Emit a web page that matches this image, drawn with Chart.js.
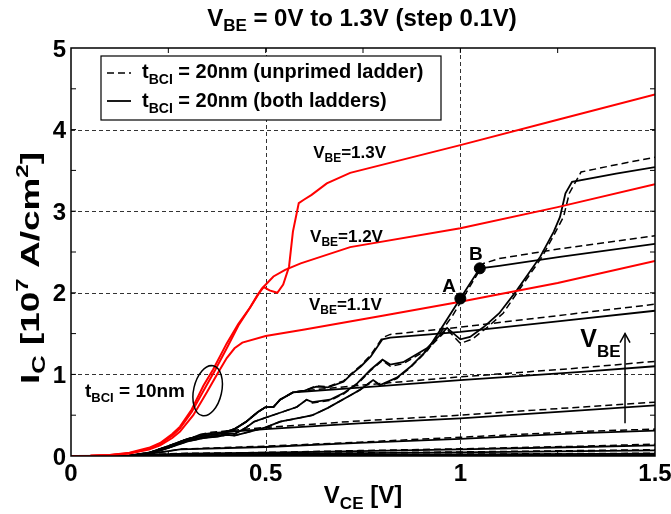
<!DOCTYPE html>
<html><head><meta charset="utf-8">
<script src="https://cdn.jsdelivr.net/npm/chart.js@4/dist/chart.umd.min.js"></script>
<style>html,body{margin:0;padding:0;background:#fff}#wrap{width:671px;height:514px}</style>
</head><body><div id="wrap"><canvas id="c" width="671" height="514"></canvas></div>
<script>
// ---------- data (VCE [V], IC [1e7 A/cm^2]) ----------
const xTicks = [0, 0.5, 1, 1.5];
const xTickLabels = ['0', '0.5', '1', '1.5'];
const yTicks = [0, 1, 2, 3, 4, 5];
const yTickLabels = ['0', '1', '2', '3', '4', '5'];

// tBCI = 10nm (red)
const red11 = [[0,0],[0.05,0.002],[0.1,0.01],[0.15,0.03],[0.2,0.08],[0.229,0.13],[0.26,0.22],[0.28,0.3],[0.314,0.5],[0.349,0.78],[0.375,1.0],[0.40,1.2],[0.42,1.32],[0.44,1.39],[0.5,1.47],[0.6,1.55],[0.8,1.72],[1.0,1.89],[1.25,2.12],[1.5,2.39]];
const red12 = [[0,0],[0.05,0.002],[0.1,0.012],[0.15,0.035],[0.2,0.09],[0.229,0.15],[0.26,0.25],[0.28,0.34],[0.31,0.54],[0.345,0.84],[0.37,1.05],[0.40,1.32],[0.43,1.6],[0.46,1.82],[0.49,2.05],[0.52,2.2],[0.55,2.28],[0.59,2.36],[0.717,2.56],[1.0,2.79],[1.25,3.05],[1.5,3.33]];
const red13 = [[0,0],[0.05,0.002],[0.1,0.013],[0.15,0.04],[0.2,0.1],[0.229,0.16],[0.26,0.27],[0.28,0.36],[0.31,0.57],[0.34,0.86],[0.365,1.06],[0.40,1.38],[0.43,1.62],[0.46,1.82],[0.48,1.98],[0.495,2.07],[0.51,2.03],[0.53,2.0],[0.545,2.1],[0.56,2.32],[0.57,2.75],[0.585,3.1],[0.598,3.14],[0.618,3.2],[0.657,3.34],[0.717,3.47],[1.0,3.81],[1.25,4.12],[1.5,4.43]];

// tBCI = 20nm, both ladders (solid)
const bothLow = [
  [[0,0],[1.5,0]],
  [[0,0],[1.5,0.002]],
  [[0,0],[0.2,0.001],[1.5,0.005]],
  [[0,0],[0.2,0.002],[1.0,0.007],[1.5,0.012]],
  [[0,0],[0.2,0.005],[0.5,0.012],[1.0,0.02],[1.5,0.03]],
  [[0,0],[0.15,0.003],[0.2,0.01],[0.5,0.025],[1.0,0.045],[1.5,0.07]],
  [[0,0],[0.15,0.004],[0.22,0.02],[0.3,0.03],[0.5,0.04],[0.74,0.06],[1.0,0.08],[1.31,0.11],[1.5,0.13]]
];
const both08 = [[0,0],[0.15,0.004],[0.2,0.025],[0.25,0.06],[0.28,0.08],[0.5,0.11],[0.74,0.16],[1.0,0.21],[1.31,0.28],[1.5,0.31]];
const both09 = [[0,0],[0.15,0.004],[0.2,0.03],[0.25,0.1],[0.3,0.2],[0.33,0.26],[0.36,0.28],[0.5,0.33],[0.74,0.40],[1.0,0.46],[1.31,0.56],[1.5,0.62]];
const both10 = [[0,0],[0.15,0.004],[0.2,0.04],[0.25,0.12],[0.3,0.21],[0.34,0.25],[0.38,0.27],[0.42,0.33],[0.45,0.42],[0.48,0.54],[0.5,0.6],[0.52,0.6],[0.537,0.69],[0.57,0.78],[0.6,0.79],[0.75,0.84],[1.0,0.93],[1.31,1.03],[1.5,1.1]];
const both11 = [[0,0],[0.15,0.004],[0.2,0.04],[0.25,0.12],[0.3,0.21],[0.34,0.25],[0.38,0.27],[0.42,0.33],[0.45,0.42],[0.48,0.54],[0.5,0.6],[0.52,0.6],[0.537,0.69],[0.57,0.78],[0.6,0.8],[0.63,0.85],[0.66,0.84],[0.7,0.91],[0.72,1.0],[0.745,1.1],[0.77,1.22],[0.8,1.43],[0.82,1.45],[1.0,1.52],[1.25,1.65],[1.5,1.78]];
const both12 = [[0,0],[0.15,0.003],[0.2,0.03],[0.25,0.1],[0.3,0.18],[0.34,0.22],[0.38,0.24],[0.4,0.26],[0.42,0.25],[0.46,0.3],[0.5,0.35],[0.537,0.42],[0.6,0.48],[0.62,0.5],[0.66,0.59],[0.72,0.75],[0.742,0.81],[0.776,0.93],[0.794,0.87],[0.837,0.96],[0.871,1.09],[0.915,1.3],[0.948,1.54],[1.0,1.93],[1.05,2.3],[1.1,2.33],[1.256,2.44],[1.5,2.6]];
const both13 = [[0,0],[0.15,0.003],[0.2,0.035],[0.25,0.11],[0.3,0.19],[0.34,0.23],[0.38,0.25],[0.4,0.28],[0.42,0.27],[0.45,0.35],[0.47,0.42],[0.5,0.47],[0.537,0.53],[0.58,0.6],[0.605,0.69],[0.62,0.66],[0.665,0.69],[0.7,0.77],[0.735,0.89],[0.77,1.06],[0.8,1.18],[0.82,1.12],[0.853,1.15],[0.914,1.32],[0.966,1.57],[1.0,1.43],[1.025,1.46],[1.06,1.58],[1.1,1.75],[1.145,2.03],[1.205,2.44],[1.24,2.75],[1.256,2.93],[1.27,3.22],[1.287,3.36],[1.4,3.46],[1.5,3.54]];

// tBCI = 20nm, unprimed ladder (dashed)
const unprLow = [
  [[0,0],[0.2,0.006],[0.5,0.014],[1.0,0.023],[1.5,0.034]],
  [[0,0],[0.15,0.003],[0.2,0.011],[0.5,0.028],[1.0,0.05],[1.5,0.077]],
  [[0,0],[0.15,0.004],[0.22,0.022],[0.3,0.033],[0.5,0.044],[0.74,0.066],[1.0,0.088],[1.31,0.12],[1.5,0.145]]
];
const unpr08 = [[0,0],[0.15,0.004],[0.2,0.025],[0.25,0.06],[0.28,0.085],[0.5,0.12],[0.74,0.17],[1.0,0.23],[1.31,0.3],[1.5,0.33]];
const unpr09 = [[0,0],[0.15,0.004],[0.2,0.03],[0.25,0.1],[0.3,0.2],[0.33,0.26],[0.36,0.29],[0.5,0.35],[0.74,0.43],[1.0,0.5],[1.31,0.6],[1.5,0.66]];
const unpr10 = [[0,0],[0.15,0.004],[0.2,0.04],[0.25,0.12],[0.3,0.21],[0.34,0.25],[0.38,0.27],[0.42,0.33],[0.45,0.42],[0.48,0.54],[0.5,0.6],[0.52,0.6],[0.537,0.69],[0.57,0.78],[0.6,0.8],[0.75,0.87],[1.0,0.97],[1.31,1.08],[1.5,1.16]];
const unpr11 = [[0,0],[0.15,0.004],[0.2,0.04],[0.25,0.12],[0.3,0.21],[0.34,0.25],[0.38,0.27],[0.42,0.33],[0.45,0.42],[0.48,0.54],[0.5,0.6],[0.52,0.6],[0.537,0.69],[0.57,0.78],[0.6,0.8],[0.63,0.86],[0.66,0.85],[0.7,0.92],[0.72,1.01],[0.745,1.11],[0.77,1.24],[0.8,1.45],[0.82,1.49],[1.0,1.58],[1.25,1.72],[1.5,1.86]];
const unpr12 = [[0,0],[0.15,0.003],[0.2,0.03],[0.25,0.1],[0.3,0.18],[0.34,0.22],[0.38,0.24],[0.4,0.26],[0.42,0.25],[0.46,0.3],[0.5,0.35],[0.537,0.42],[0.6,0.48],[0.62,0.5],[0.66,0.59],[0.72,0.75],[0.742,0.81],[0.776,0.93],[0.794,0.86],[0.837,0.95],[0.871,1.08],[0.915,1.29],[0.95,1.52],[0.98,1.72],[1.0,1.88],[1.06,2.36],[1.1,2.42],[1.256,2.54],[1.5,2.7]];
const unpr13 = [[0,0],[0.15,0.003],[0.2,0.035],[0.25,0.11],[0.3,0.19],[0.34,0.23],[0.38,0.25],[0.4,0.28],[0.42,0.27],[0.45,0.35],[0.47,0.42],[0.5,0.47],[0.537,0.53],[0.58,0.6],[0.605,0.69],[0.62,0.65],[0.665,0.68],[0.7,0.76],[0.735,0.88],[0.77,1.05],[0.8,1.17],[0.82,1.1],[0.853,1.13],[0.914,1.3],[0.966,1.55],[1.0,1.38],[1.03,1.43],[1.07,1.58],[1.11,1.75],[1.15,2.03],[1.21,2.44],[1.245,2.75],[1.265,2.93],[1.28,3.22],[1.31,3.48],[1.4,3.57],[1.5,3.66]];

// marked points A and B
const markA = [1.0, 1.93];
const markB = [1.05, 2.30];

// ---------- chart ----------
const FONT = '"Liberation Sans", Arial, Helvetica, sans-serif';
const toXY = a => a.map(p => ({x: p[0], y: p[1]}));
function ln(d, color, dash, w) {
  return {data: toXY(d), borderColor: color, backgroundColor: color, borderWidth: w, borderDash: dash,
          pointRadius: 0, pointHoverRadius: 0, showLine: true, fill: false, tension: 0};
}
const datasets = [];
datasets.push({data: toXY([markA, markB]), pointRadius: 5.5, pointBackgroundColor: '#000', pointBorderColor: '#000', showLine: false});
[red13, red12, red11].forEach(d => datasets.push(ln(d, '#ff0000', [], 2)));
[both13, both12, both11, both10, both09, both08].concat(bothLow).forEach(d => datasets.push(ln(d, '#000', [], 1.8)));
[unpr13, unpr12, unpr11, unpr10, unpr09, unpr08].concat(unprLow).forEach(d => datasets.push(ln(d, '#000', [7, 4], 1.5)));

function rich(ctx, x, y, parts, align) {
  let w = 0;
  parts.forEach(p => { ctx.font = 'bold ' + p[1] + 'px ' + FONT; p.w = ctx.measureText(p[0]).width; w += p.w; });
  let cx = align === 'center' ? x - w / 2 : (align === 'right' ? x - w : x);
  ctx.textAlign = 'left'; ctx.textBaseline = 'alphabetic';
  parts.forEach(p => { ctx.font = 'bold ' + p[1] + 'px ' + FONT; ctx.fillText(p[0], cx, y + (p[2] || 0)); cx += p.w; });
  return w;
}
function richWidth(ctx, parts) {
  let w = 0;
  parts.forEach(p => { ctx.font = 'bold ' + p[1] + 'px ' + FONT; w += ctx.measureText(p[0]).width; });
  return w;
}

const deco = {
  id: 'deco',
  beforeDraw(chart) {
    const c = chart.ctx; c.save(); c.fillStyle = '#fff'; c.fillRect(0, 0, chart.width, chart.height); c.restore();
  },
  beforeDatasetsDraw(chart) {
    const c = chart.ctx, a = chart.chartArea, xs = chart.scales.x, ys = chart.scales.y;
    c.save(); c.strokeStyle = '#333'; c.lineWidth = 1; c.setLineDash([4, 3]);
    xTicks.slice(1, -1).forEach(v => { const px = Math.round(xs.getPixelForValue(v)) + 0.5; c.beginPath(); c.moveTo(px, a.top); c.lineTo(px, a.bottom); c.stroke(); });
    yTicks.slice(1, -1).forEach(v => { const py = Math.round(ys.getPixelForValue(v)) + 0.5; c.beginPath(); c.moveTo(a.left, py); c.lineTo(a.right, py); c.stroke(); });
    c.restore();
  },
  afterDatasetsDraw(chart) {
    const c = chart.ctx, a = chart.chartArea, xs = chart.scales.x, ys = chart.scales.y;
    const X = v => xs.getPixelForValue(v), Y = v => ys.getPixelForValue(v);
    c.save();
    c.fillStyle = '#000'; c.strokeStyle = '#000'; c.setLineDash([]);
    // box
    c.lineWidth = 1.5; c.strokeRect(a.left, a.top, a.right - a.left, a.bottom - a.top);
    // tick marks (major + minor, inside)
    c.lineWidth = 1;
    for (let i = 1; i < 6; i++) { const px = X(i * 0.25); c.beginPath(); c.moveTo(px, a.bottom); c.lineTo(px, a.bottom - 5); c.moveTo(px, a.top); c.lineTo(px, a.top + 5); c.stroke(); }
    for (let i = 1; i < 10; i++) { const py = Y(i * 0.5); c.beginPath(); c.moveTo(a.left, py); c.lineTo(a.left + 5, py); c.moveTo(a.right, py); c.lineTo(a.right - 5, py); c.stroke(); }
    // tick labels
    xTicks.forEach((v, i) => rich(c, X(v), a.bottom + 25, [[xTickLabels[i], 24]], 'center'));
    yTicks.forEach((v, i) => rich(c, a.left - 5, Y(v) + 8.5, [[yTickLabels[i], 24]], 'right'));
    // title & axis titles
    rich(c, 362, 26, [['V', 24], ['BE', 17, 5], [' = 0V to 1.3V (step 0.1V)', 24]], 'center');
    rich(c, 363, 503, [['V', 24], ['CE', 17, 6], [' [V]', 24]], 'center');
    const yl = [['I', 26], ['C', 18, 6], [' [10', 26], ['7', 17, -11], [' A/cm', 26], ['2', 17, -11], [']', 26]];
    const ylw = richWidth(c, yl);
    c.save(); c.translate(39, 268); c.rotate(-Math.PI / 2); c.scale(232 / ylw, 1);
    rich(c, 0, 0, yl, 'center');
    c.restore();
    // curve labels
    rich(c, X(0.622), Y(3.65), [['V', 17], ['BE', 12, 4], ['=1.3V', 17]], 'left');
    rich(c, X(0.614), Y(2.62), [['V', 17], ['BE', 12, 4], ['=1.2V', 17]], 'left');
    rich(c, X(0.611), Y(1.79), [['V', 17], ['BE', 12, 4], ['=1.1V', 17]], 'left');
    rich(c, X(0.971), Y(2.01), [['A', 19]], 'center');
    rich(c, X(1.04), Y(2.40), [['B', 19]], 'center');
    rich(c, X(0.036), Y(0.72), [['t', 19], ['BCI', 13, 5], [' = 10nm', 19]], 'left');
    // ellipse
    c.lineWidth = 1.5; c.beginPath(); c.ellipse(X(0.351), Y(0.80), 14, 25.5, 0.22, 0, Math.PI * 2); c.stroke();
    // VBE arrow
    rich(c, X(1.308), Y(1.336), [['V', 25], ['BE', 17, 10]], 'left');
    const ax = X(1.423), ay0 = Y(0.40), ay1 = Y(1.50);
    c.lineWidth = 1.5; c.beginPath(); c.moveTo(ax, ay0); c.lineTo(ax, ay1); c.stroke();
    c.beginPath(); c.moveTo(ax - 5, ay1 + 9); c.lineTo(ax, ay1); c.lineTo(ax + 5, ay1 + 9); c.stroke();
    // legend
    const lx = a.left + 30, ly = a.top + 8;
    c.fillStyle = '#fff'; c.fillRect(lx, ly, 340, 64);
    c.lineWidth = 1.2; c.strokeRect(lx, ly, 340, 64);
    c.fillStyle = '#000';
    c.lineWidth = 1.5; c.setLineDash([7, 4]); c.beginPath(); c.moveTo(lx + 6, ly + 17); c.lineTo(lx + 30, ly + 17); c.stroke();
    c.setLineDash([]); c.lineWidth = 1.8; c.beginPath(); c.moveTo(lx + 6, ly + 45); c.lineTo(lx + 30, ly + 45); c.stroke();
    rich(c, lx + 41, ly + 22, [['t', 20], ['BCI', 14, 6], [' = 20nm (unprimed ladder)', 20]], 'left');
    rich(c, lx + 41, ly + 51, [['t', 20], ['BCI', 14, 6], [' = 20nm (both ladders)', 20]], 'left');
    c.restore();
  }
};

new Chart(document.getElementById('c'), {
  type: 'scatter',
  data: {datasets},
  options: {
    responsive: false, animation: false, devicePixelRatio: 1,
    layout: {padding: {left: 0, right: 16, top: 48, bottom: 0}},
    plugins: {legend: {display: false}, tooltip: {enabled: false}, title: {display: false}},
    events: [],
    scales: {
      x: {type: 'linear', min: 0, max: 1.5, ticks: {display: false, stepSize: 0.5}, grid: {display: false}, border: {display: false},
          afterFit: s => { s.height = 58; }},
      y: {type: 'linear', min: 0, max: 5, ticks: {display: false, stepSize: 1}, grid: {display: false}, border: {display: false},
          afterFit: s => { s.width = 71; }}
    }
  },
  plugins: [deco]
});
</script></body></html>
